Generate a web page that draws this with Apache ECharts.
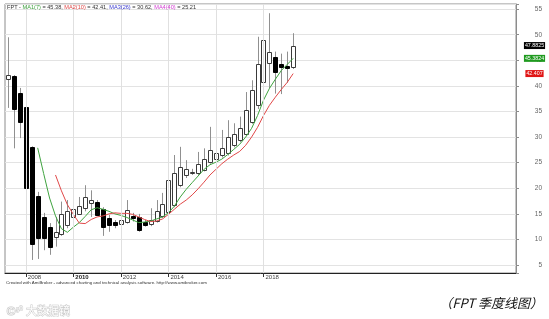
<!DOCTYPE html>
<html>
<head>
<meta charset="utf-8">
<script src="https://cdn.jsdelivr.net/npm/echarts@6/dist/echarts.min.js"></script>
<style>
html,body{margin:0;padding:0;background:#fff;}
#c{width:549px;height:319px;}
</style>
</head>
<body>
<div id="c"></div>
<script>
// ---- data (quarterly FPT candles, starting 2007 Q2) ----
const firstYear = 2007, firstQuarter = 2, slotCount = 86;
const yearTicks = ['2008', '2010', '2012', '2014', '2016', '2018'];
const opens  = [41.3,41.9,38.7,35.8,28.0,18.5,14.4,12.4,10.4,11.1,12.8,14.3,15.0,16.1,17.1,17.4,15.9,14.1,13.5,13.1,13.5,14.6,14.4,13.5,13.0,13.6,14.6,15.4,16.7,20.6,22.5,23.1,23.0,23.6,25.2,25.8,26.5,26.8,28.4,29.4,30.7,33.0,36.3,40.7,44.5,45.6,44.2,43.9,43.7];
const closes = [42.2,35.4,33.0,20.0,9.1,10.2,10.2,8.6,11.4,14.9,15.6,15.9,16.5,18.3,17.7,14.8,12.4,12.8,12.8,13.8,15.7,14.1,11.8,12.8,13.9,15.6,16.9,21.6,22.9,24.1,23.7,23.2,24.7,25.8,27.5,26.9,27.8,30.1,30.7,31.7,35.3,39.2,44.3,48.9,46.7,42.8,43.7,43.5,47.8825];
const lows   = [35.7,27.8,29.8,11.8,6.0,6.2,7.9,7.0,8.6,10.7,12.2,14.2,14.8,15.5,14.4,14.6,10.7,11.5,12.2,12.4,13.1,13.5,11.5,12.5,12.6,13.3,14.2,15.0,16.3,20.2,22.0,22.6,22.6,23.3,24.8,25.4,26.0,26.4,28.0,29.0,30.3,32.6,35.5,39.2,39.5,38.5,38.4,40.6,43.3];
const highs  = [49.5,42.1,39.6,36.3,28.2,19.3,15.2,13.2,14.4,17.4,17.7,17.7,18.3,20.6,19.6,17.7,16.3,14.8,13.8,14.2,17.7,15.2,15.0,13.8,16.1,17.7,19.1,26.5,26.5,28.1,25.5,23.8,27.1,27.8,32.0,28.8,31.4,33.3,32.7,34.0,38.8,41.1,49.6,54.3,54.2,46.7,46.3,46.7,50.3];
const ma7  = [null,null,null,null,null,27.9,22.9,18.1,14.6,12.1,11.4,12.4,13.3,14.5,15.8,16.2,15.9,15.5,15.0,14.7,14.3,13.8,13.3,13.4,13.6,14.0,14.4,15.2,16.5,18.3,19.8,21.1,22.4,23.7,24.6,25.1,25.7,26.6,27.6,28.6,30.0,31.7,34.2,37.2,39.5,41.3,43.0,44.2,45.38];
const ma10 = [null,null,null,null,null,null,null,null,22.6,19.5,16.8,14.9,13.2,13.1,13.9,14.4,14.6,15.0,15.2,15.1,15.1,14.9,14.4,13.9,13.5,13.6,14.0,14.9,15.9,16.9,17.7,18.7,19.9,21.2,22.6,23.7,24.8,25.7,26.5,27.2,28.4,30.0,31.9,34.2,36.2,37.8,39.3,40.7,42.41];
const maNames  = ['MA1(7)', 'MA2(10)', 'MA3(26)', 'MA4(40)'];
const maValues = ['45.38', '42.41', '30.62', '25.21'];
const lastLabels = ['47.8825', '45.3824', '42.407'];
const yTickStep = 5;

// ---- styles ----
const maColors = ['#3fa33f', '#e04848', '#3a3ad0', '#d23cd2'];
const labelBg = ['#000000', '#1f9a1f', '#e01515'];

const categories = [];
{
  let y = firstYear, q = firstQuarter;
  for (let i = 0; i < slotCount; i++) {
    categories.push(y + 'Q' + q);
    q++; if (q > 4) { q = 1; y++; }
  }
}
const tickSet = new Set(yearTicks.map(y => y + 'Q1'));
const candleData = opens.map((o, i) => [i, o, closes[i], lows[i], highs[i]]);

const chart = echarts.init(document.getElementById('c'), null, {renderer: 'canvas'});

function renderCandle(params, api) {
  const x = api.value(0);
  const o = api.value(1), c = api.value(2), l = api.value(3), h = api.value(4);
  const pO = api.coord([x, o]), pC = api.coord([x, c]);
  const pL = api.coord([x, l]), pH = api.coord([x, h]);
  const cx = Math.round(pO[0]) + 0.5;
  const top = Math.round(Math.min(pO[1], pC[1])) + 0.5;
  let bot = Math.round(Math.max(pO[1], pC[1])) + 0.5;
  if (bot - top < 1) bot = top + 1;
  const up = c >= o;
  const w = 4;
  return {
    type: 'group',
    children: [
      {type: 'line', shape: {x1: cx, y1: pH[1], x2: cx, y2: top}, style: {stroke: '#909090', lineWidth: 1}},
      {type: 'line', shape: {x1: cx, y1: bot, x2: cx, y2: pL[1]}, style: {stroke: '#909090', lineWidth: 1}},
      {type: 'rect', shape: {x: cx - w / 2, y: top, width: w, height: bot - top},
       style: {fill: up ? '#ffffff' : '#000000', stroke: up ? '#3a3a3a' : '#000000', lineWidth: 1}}
    ]
  };
}

chart.setOption({
  animation: false,
  grid: {left: 5, right: 33, top: 4, bottom: 46, show: true, borderColor: '#8c8c8c', borderWidth: 1},
  xAxis: {
    type: 'category',
    data: categories,
    boundaryGap: true,
    axisLine: {lineStyle: {color: '#222', width: 1}},
    axisTick: {
      show: true, alignWithLabel: true, length: 4,
      interval: (idx, val) => tickSet.has(val),
      lineStyle: {color: '#333'}
    },
    axisLabel: {
      interval: (idx, val) => tickSet.has(val),
      formatter: v => v.slice(0, 4) === '2010' ? '{b|2010}' : v.slice(0, 4),
      align: 'left', margin: 1, padding: [0, 0, 0, 2],
      color: '#444', fontSize: 6, fontFamily: 'Liberation Sans',
      rich: {b: {fontWeight: 'bold', fontSize: 6, color: '#222', fontFamily: 'Liberation Sans'}}
    },
    splitLine: {show: false}
  },
  yAxis: {
    type: 'value', position: 'right',
    min: 3.45, max: 56, splitNumber: 10,
    axisLine: {show: true, lineStyle: {color: '#8c8c8c'}},
    axisTick: {show: true, length: 3, lineStyle: {color: '#8c8c8c'}},
    axisLabel: {
      color: '#666', fontSize: 6.5, fontFamily: 'Liberation Sans', align: 'right', margin: 26,
      formatter: v => Math.abs(v / yTickStep - Math.round(v / yTickStep)) < 1e-6 ? String(Math.round(v)) : ''
    },
    splitLine: {lineStyle: {color: '#e3e3e3', width: 1}}
  },
  series: [
    {
      type: 'line', data: [], z: 1, silent: true,
      markLine: {
        silent: true, symbol: ['none', 'none'], animation: false,
        label: {show: false},
        lineStyle: {color: '#e0e0e0', type: 'solid', width: 1},
        data: yearTicks.map(y => ({xAxis: y + 'Q1'}))
      }
    },
    {
      type: 'custom', renderItem: renderCandle, data: candleData, z: 3,
      encode: {x: 0, y: [1, 2, 3, 4]}
    },
    {
      type: 'line', data: ma7, z: 4, symbol: 'none', connectNulls: false,
      lineStyle: {color: maColors[0], width: 1}
    },
    {
      type: 'line', data: ma10, z: 4, symbol: 'none', connectNulls: false,
      lineStyle: {color: maColors[1], width: 1}
    }
  ]
});

const lastVals = [closes[closes.length - 1], parseFloat(maValues[0]), parseFloat(maValues[1])];
const titleRich = '{k|FPT - }' +
  '{c0|' + maNames[0] + '}{k| = ' + maValues[0] + ', }' +
  '{c1|' + maNames[1] + '}{k| = ' + maValues[1] + ', }' +
  '{c2|' + maNames[2] + '}{k| = ' + maValues[2] + ', }' +
  '{c3|' + maNames[3] + '}{k| = ' + maValues[3] + '}';
const fs = 5.6;
const graphics = [
  {
    type: 'text', left: 7, top: 4, z: 10,
    style: {
      text: titleRich, fontSize: fs, fontFamily: 'Liberation Sans',
      rich: {
        k: {fill: '#333', fontSize: fs, fontFamily: 'Liberation Sans'},
        c0: {fill: maColors[0], fontSize: fs, fontFamily: 'Liberation Sans'},
        c1: {fill: maColors[1], fontSize: fs, fontFamily: 'Liberation Sans'},
        c2: {fill: maColors[2], fontSize: fs, fontFamily: 'Liberation Sans'},
        c3: {fill: maColors[3], fontSize: fs, fontFamily: 'Liberation Sans'}
      }
    }
  },
  {
    type: 'text', left: 6, top: 281, z: 10,
    style: {text: 'Created with AmiBroker - advanced charting and technical analysis software. http://www.amibroker.com',
            fontSize: 4.4, fill: '#333', fontFamily: 'Liberation Sans'}
  },
  {
    type: 'text', left: 6, top: 305, z: 10,
    style: {text: '©⁵⁰ 大数据镜', fontSize: 11, fill: '#ffffff', stroke: '#c8c8c8', lineWidth: 1,
            fontFamily: 'Noto Sans CJK SC'}
  },
  {
    type: 'text', right: 6, top: 297, z: 10,
    style: {text: '（FPT 季度线图）', fontSize: 13, fill: '#111', fontStyle: 'italic',
            fontFamily: 'Noto Sans CJK SC'}
  }
];
lastVals.forEach((v, i) => {
  const py = chart.convertToPixel({yAxisIndex: 0}, v);
  graphics.push({
    type: 'text', x: 534.5, y: py, z: 20,
    style: {
      text: lastLabels[i], fontSize: 5.3, fontFamily: 'Liberation Sans', fill: '#fff',
      backgroundColor: labelBg[i], padding: [1, 1, 1, 1],
      align: 'center', verticalAlign: 'middle'
    }
  });
});
chart.setOption({graphic: graphics});
</script>
</body>
</html>
